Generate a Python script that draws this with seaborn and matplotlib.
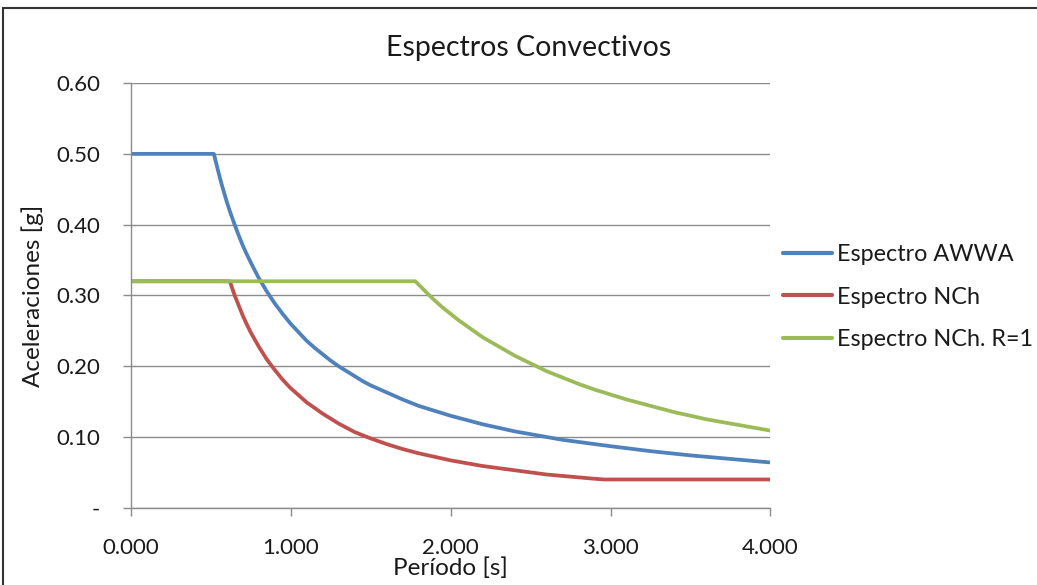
import matplotlib
matplotlib.use("Agg")
import matplotlib.pyplot as plt
import seaborn as sns
import pandas as pd
from matplotlib.patches import Rectangle

# ---- data ----
t_awwa = [0.0, 0.52, 0.55, 0.57, 0.60, 0.62, 0.65, 0.67, 0.70, 0.72, 0.75, 0.77, 0.80, 0.85, 0.90,
          0.95, 1.00, 1.05, 1.10, 1.15, 1.20, 1.25, 1.30, 1.35, 1.40, 1.45, 1.50, 1.60, 1.70, 1.80,
          1.90, 2.00, 2.10, 2.20, 2.30, 2.40, 2.50, 2.60, 2.70, 2.80, 2.90, 3.00, 3.25, 3.50, 3.75, 4.00]
sa_awwa = [0.500, 0.500, 0.473, 0.456, 0.433, 0.419, 0.400, 0.388, 0.371, 0.361, 0.347, 0.338, 0.325,
           0.306, 0.289, 0.274, 0.260, 0.248, 0.236, 0.226, 0.217, 0.208, 0.200, 0.193, 0.186, 0.179,
           0.173, 0.163, 0.153, 0.144, 0.137, 0.130, 0.124, 0.118, 0.113, 0.108, 0.104, 0.100, 0.096,
           0.093, 0.090, 0.087, 0.080, 0.074, 0.069, 0.064]

t_nch = [0.0, 0.62, 0.65, 0.67, 0.70, 0.72, 0.75, 0.77, 0.80, 0.85, 0.90, 0.95, 1.00, 1.05, 1.10,
         1.15, 1.20, 1.25, 1.30, 1.35, 1.40, 1.50, 1.60, 1.70, 1.80, 1.90, 2.00, 2.10, 2.20, 2.30,
         2.40, 2.50, 2.60, 2.70, 2.80, 2.90, 2.96, 3.50, 4.00]
sa_nch = [0.320, 0.320, 0.300, 0.289, 0.272, 0.262, 0.248, 0.240, 0.228, 0.210, 0.195, 0.181, 0.169,
          0.159, 0.149, 0.141, 0.133, 0.126, 0.119, 0.113, 0.107, 0.098, 0.090, 0.083, 0.077, 0.072,
          0.067, 0.063, 0.059, 0.056, 0.053, 0.050, 0.047, 0.045, 0.043, 0.041, 0.040, 0.040, 0.040]

t_r1 = [0.0, 1.78, 1.85, 1.90, 1.95, 2.00, 2.05, 2.10, 2.20, 2.30, 2.40, 2.50, 2.60, 2.70, 2.80,
        2.90, 3.00, 3.10, 3.20, 3.30, 3.40, 3.50, 3.60, 3.70, 3.80, 3.90, 4.00]
sa_r1 = [0.320, 0.320, 0.304, 0.293, 0.283, 0.274, 0.265, 0.257, 0.241, 0.228, 0.215, 0.204, 0.193,
         0.184, 0.175, 0.167, 0.160, 0.153, 0.147, 0.141, 0.135, 0.130, 0.125, 0.121, 0.117, 0.113, 0.109]

series_names = ["Espectro AWWA", "Espectro NCh", "Espectro NCh. R=1"]
series_colors = ["#4F81BD", "#C0504D", "#9BBB59"]

x_ticks = [0, 1, 2, 3, 4]
y_ticks = [0.0, 0.1, 0.2, 0.3, 0.4, 0.5, 0.6]
y_tick_labels = ["-", "0.10", "0.20", "0.30", "0.40", "0.50", "0.60"]
x_tick_labels = ["0.000", "1.000", "2.000", "3.000", "4.000"]

df = pd.concat([
    pd.DataFrame({"T": t_awwa, "Sa": sa_awwa, "serie": series_names[0]}),
    pd.DataFrame({"T": t_nch, "Sa": sa_nch, "serie": series_names[1]}),
    pd.DataFrame({"T": t_r1, "Sa": sa_r1, "serie": series_names[2]}),
], ignore_index=True)

sns.set_theme(style="white")
plt.rcParams['font.family'] = ['Lato', 'DejaVu Sans']

fig = plt.figure(figsize=(10.37, 5.85), dpi=100)
ax = fig.add_axes([0.126, 0.132, 0.617, 0.726])

sns.lineplot(data=df, x="T", y="Sa", hue="serie", hue_order=series_names,
             palette=series_colors, linewidth=2.7, sort=False, estimator=None, ax=ax)
for ln in ax.get_lines():
    ln.set_solid_joinstyle("round")

ax.set_xlim(0, 4)
ax.set_ylim(0, 0.6)
ax.set_xticks(x_ticks)
ax.set_xticklabels(x_tick_labels)
ax.set_yticks(y_ticks)
ax.set_yticklabels(y_tick_labels)
ax.grid(axis="y", color="#8c8c8c", linewidth=1.0)
ax.set_axisbelow(True)
for s in ["top", "right"]:
    ax.spines[s].set_visible(False)
for s in ["left", "bottom"]:
    ax.spines[s].set_color("#8c8c8c")
    ax.spines[s].set_linewidth(1.0)
ax.tick_params(axis="both", which="major", direction="out", length=6, width=1.0,
               color="#8c8c8c", labelsize=16, labelcolor="#1a1a1a")
ax.tick_params(axis="y", pad=16)
ax.tick_params(axis="x", pad=16)
ax.tick_params(bottom=True, left=True)

ax.set_xlabel("Período [s]", fontsize=17.5, color="#1a1a1a", labelpad=-1)
ax.set_ylabel("Aceleraciones [g]", fontsize=17.5, color="#1a1a1a", labelpad=9)

fig.text(0.51, 0.918, "Espectros Convectivos", ha="center", va="center",
         fontsize=20.5, color="#1a1a1a")

leg = ax.legend(loc="center left", bbox_to_anchor=(1.005, 0.496), frameon=False,
                fontsize=16.8, handlelength=2.1, handletextpad=0.2, labelspacing=0.92,
                borderaxespad=0)
for line in leg.get_lines():
    line.set_linewidth(3)
for txt in leg.get_texts():
    txt.set_color("#1a1a1a")

fig.patches.append(Rectangle((0.003, -0.05), 1.2, 1.036, transform=fig.transFigure,
                             fill=False, edgecolor="#333333", linewidth=1.5))

fig.savefig("out.png", dpi=100)
